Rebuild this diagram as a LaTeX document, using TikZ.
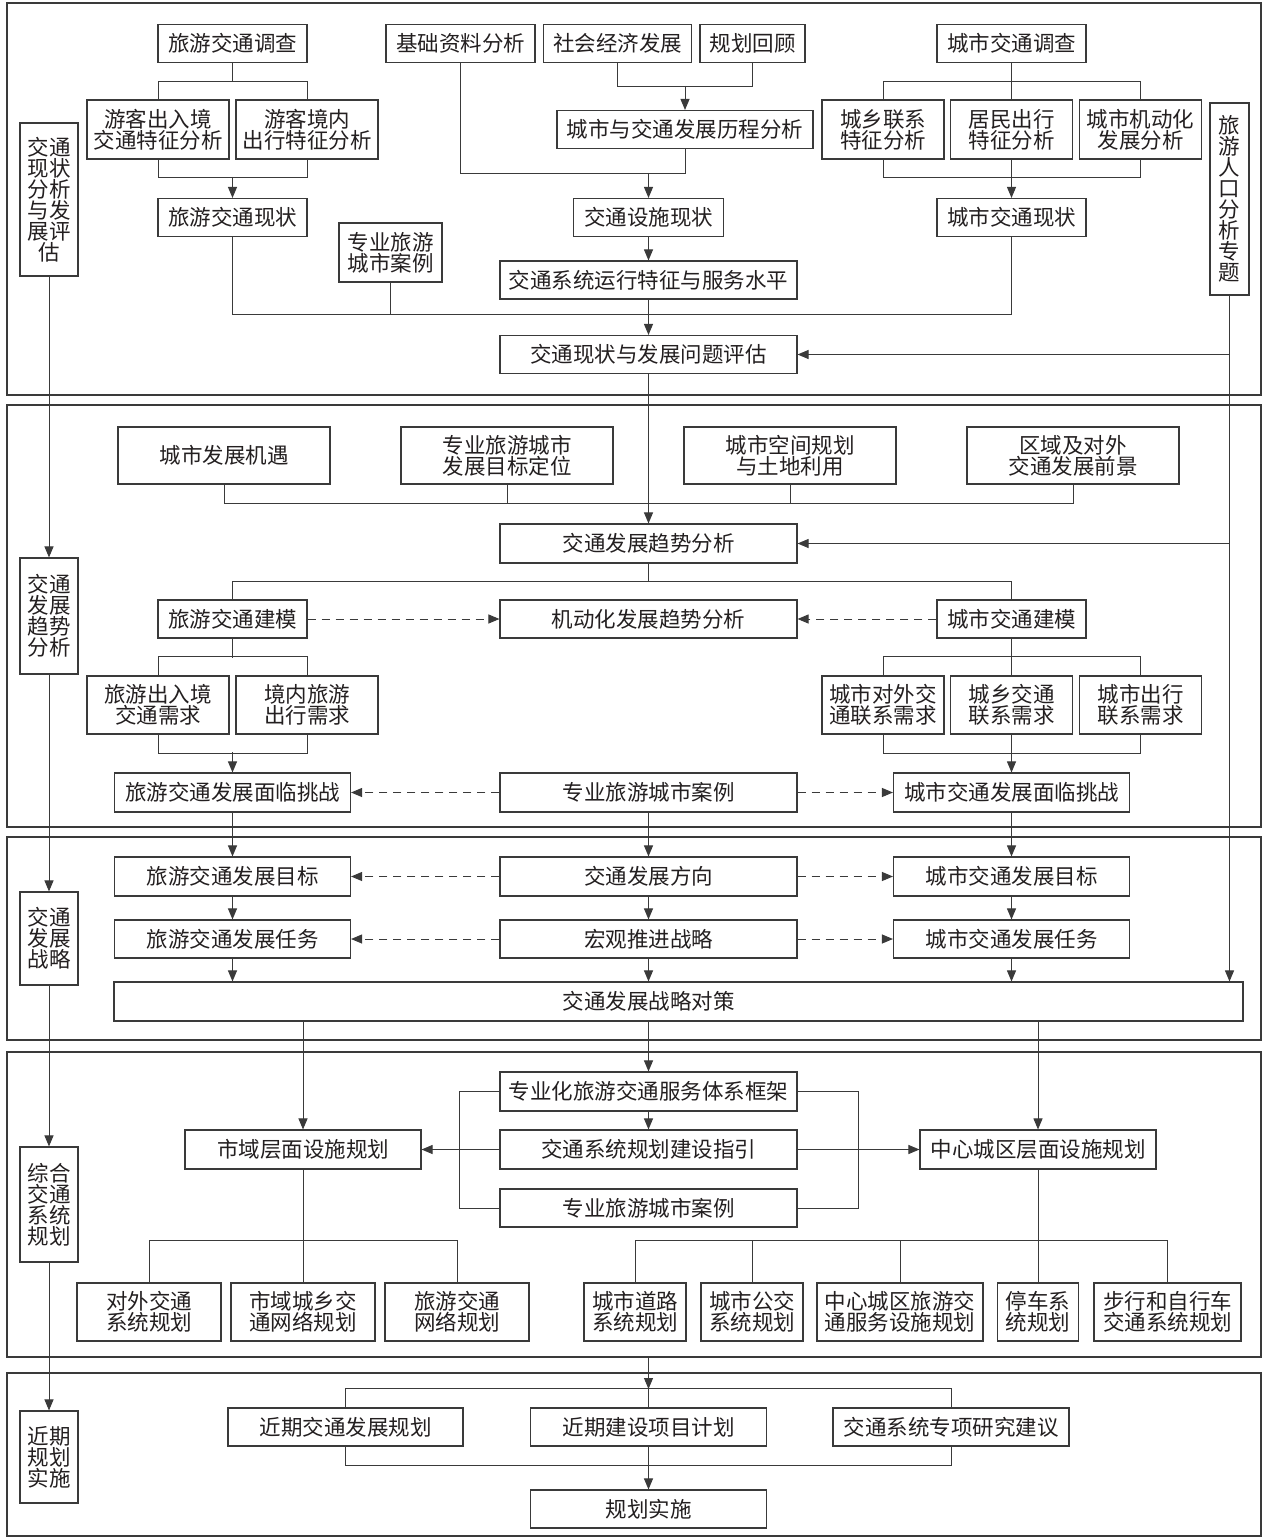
\documentclass[tikz,border=0pt]{standalone}
\usepackage{fontspec}
\newfontfamily\cjk{Noto Sans CJK SC}
\usetikzlibrary{arrows.meta}
\definecolor{cline}{HTML}{3A3A3A}
\definecolor{ctext}{HTML}{231F20}
\tikzset{
  every picture/.style={font=\cjk\fontsize{21.5}{21}\selectfont, line width=1pt},
  box/.style 2 args={draw=cline, line width=1.1pt, text=ctext, align=center, inner sep=0pt,
    minimum width=#1pt, minimum height=#2pt},
  side/.style={box={58}{#1}},
  ln/.style={draw=cline},
  arr/.style={-{Triangle[length=11pt, width=9pt]}, draw=cline},
  darr/.style={arr, dash pattern=on 8pt off 6pt},
  stage/.style={draw=cline, line width=1.2pt},
}

\begin{document}
\begin{tikzpicture}[x=1pt, y=-1pt]
  \useasboundingbox (0,0) rectangle (1265,1538);
  \draw[stage] (7,3) rectangle (1261,395);
  \draw[stage] (7,405) rectangle (1261,827);
  \draw[stage] (7,837) rectangle (1261,1040);
  \draw[stage] (7,1052) rectangle (1261,1357);
  \draw[stage] (7,1373) rectangle (1261,1536);

  % stage 1
  \node[box={149}{38}] (sv1) at (232.5,43.5) {旅游交通调查};
  \node[box={142}{59}] (sv2a) at (158,129.5) {游客出入境\\交通特征分析};
  \node[box={142}{59}] (sv2b) at (307,129.5) {游客境内\\出行特征分析};
  \node[box={149}{38}] (tcur) at (232.5,217.5) {旅游交通现状};
  \node[box={149}{38}] (base) at (460.5,43.5) {基础资料分析};
  \node[box={148}{38}] (soc) at (617.5,43.5) {社会经济发展};
  \node[box={105}{38}] (rev) at (752.5,43.5) {规划回顾};
  \node[box={256}{38}] (hist) at (685,129.5) {城市与交通发展历程分析};
  \node[box={150}{38}] (fac) at (648.5,217.5) {交通设施现状};
  \node[box={103}{59}] (case1) at (390.5,252.5) {专业旅游\\城市案例};
  \node[box={297}{38}] (run) at (648.5,280) {交通系统运行特征与服务水平};
  \node[box={297}{38}] (eval) at (648.5,354.5) {交通现状与发展问题评估};
  \node[box={149}{38}] (cv1) at (1011.5,43.5) {城市交通调查};
  \node[box={122}{59}] (cv2a) at (883,129.5) {城乡联系\\特征分析};
  \node[box={122}{59}] (cv2b) at (1011.5,129.5) {居民出行\\特征分析};
  \node[box={122}{59}] (cv2c) at (1140.5,129.5) {城市机动化\\发展分析};
  \node[box={149}{38}] (ccur) at (1011.5,217.5) {城市交通现状};
  \node[box={39}{192}] (pop) at (1229.5,199) {旅\\游\\人\\口\\分\\析\\专\\题};

  \draw[ln] (sv1.south) -- ++(0,19);
  \draw[ln] (sv2a.north) -- ++(0,-18) -| (sv2b.north);
  \draw[ln] (sv2a.south) -- ++(0,18) -| (sv2b.south);
  \draw[arr] ([yshift=21pt]tcur.north) -- (tcur.north);
  \draw[ln] (soc.south) -- ++(0,23) -| (rev.south);
  \draw[arr] ([yshift=24pt]hist.north) -- (hist.north);
  \draw[ln] (base.south) -- ++(0,110) -| (hist.south);
  \draw[arr] ([yshift=25pt]fac.north) -- (fac.north);
  \draw[ln] (cv1.south) -- (cv2b.north);
  \draw[ln] (cv2a.north) -- ++(0,-18) -| (cv2c.north);
  \draw[ln] (cv2a.south) -- ++(0,18) -| (cv2c.south);
  \draw[ln] (tcur.south) -- ++(0,77) -| (ccur.south);
  \draw[ln] (case1.south) -- ++(0,32);

  % stage 2
  \node[box={212}{57}] (opp) at (224,455.5) {城市发展机遇};
  \node[box={212}{57}] (goal) at (507,455.5) {专业旅游城市\\发展目标定位};
  \node[box={212}{57}] (land) at (790,455.5) {城市空间规划\\与土地利用};
  \node[box={212}{57}] (reg) at (1073,455.5) {区域及对外\\交通发展前景};
  \node[box={297}{39}] (trend) at (648.5,543.5) {交通发展趋势分析};
  \node[box={149}{38}] (tm) at (232.5,619) {旅游交通建模};
  \node[box={297}{38}] (motor) at (648.5,619) {机动化发展趋势分析};
  \node[box={149}{38}] (cm) at (1011.5,619) {城市交通建模};
  \node[box={142}{58}] (td1) at (158,705) {旅游出入境\\交通需求};
  \node[box={142}{58}] (td2) at (307,705) {境内旅游\\出行需求};
  \node[box={122}{58}] (cd1) at (883,705) {城市对外交\\通联系需求};
  \node[box={122}{58}] (cd2) at (1011.5,705) {城乡交通\\联系需求};
  \node[box={122}{58}] (cd3) at (1140.5,705) {城市出行\\联系需求};
  \node[box={236}{39}] (tch) at (232.5,792.5) {旅游交通发展面临挑战};
  \node[box={297}{39}] (case2) at (648.5,792.5) {专业旅游城市案例};
  \node[box={236}{39}] (cch) at (1011.5,792.5) {城市交通发展面临挑战};

  \draw[ln] (opp.south) -- ++(0,19) -| (reg.south);
  \foreach \n in {goal,land} \draw[ln] (\n.south) -- ++(0,19);
  \draw[ln] (trend.south) -- ++(0,18);
  \draw[ln] (tm.north) -- ++(0,-18) -| (cm.north);
  \draw[ln] (tm.south) -- ++(0,19);
  \draw[ln] (td1.north) -- ++(0,-19) -| (td2.north);
  \draw[ln] (td1.south) -- ++(0,19) -| (td2.south);
  \draw[arr] ([yshift=20pt]tch.north) -- (tch.north);
  \draw[ln] (cm.south) -- (cd2.north);
  \draw[ln] (cd1.north) -- ++(0,-19) -| (cd3.north);
  \draw[ln] (cd1.south) -- ++(0,19) -| (cd3.south);

  % stage 3
  \node[box={236}{39}] (tgoal) at (232.5,876.5) {旅游交通发展目标};
  \node[box={297}{39}] (dir) at (648.5,876.5) {交通发展方向};
  \node[box={236}{39}] (cgoal) at (1011.5,876.5) {城市交通发展目标};
  \node[box={236}{38}] (ttask) at (232.5,939) {旅游交通发展任务};
  \node[box={297}{38}] (macro) at (648.5,939) {宏观推进战略};
  \node[box={236}{38}] (ctask) at (1011.5,939) {城市交通发展任务};
  \node[box={1129}{39}, label={[text=ctext, xshift=-30pt]center:交通发展战略对策}] (strat) at (678.5,1001.5) {};

  \foreach \a/\b in {fac/run, run/eval, eval/trend, cv2b/ccur, cd2/cch, tch/tgoal, case2/dir, cch/cgoal,
                     tgoal/ttask, dir/macro, cgoal/ctask}
    \draw[arr] (\a) -- (\b);
  \foreach \n in {ttask,macro,ctask} \draw[arr] (\n.south) -- (\n.south |- strat.north);
  \foreach \a/\b in {tm/motor, cm/motor, case2/tch, case2/cch, dir/tgoal, dir/cgoal, macro/ttask, macro/ctask}
    \draw[darr] (\a) -- (\b);
  \draw[arr] (pop.south) -- (pop.south |- strat.north);
  \draw[arr] (pop.south |- eval) -- (eval.east);
  \draw[arr] (pop.south |- trend) -- (trend.east);

  % stage 4
  \node[box={297}{39}] (svc) at (648.5,1091.5) {专业化旅游交通服务体系框架};
  \node[box={297}{39}] (guide) at (648.5,1149.5) {交通系统规划建设指引};
  \node[box={297}{38}] (case3) at (648.5,1208) {专业旅游城市案例};
  \node[box={236}{39}] (city) at (303,1149.5) {市域层面设施规划};
  \node[box={236}{39}] (core) at (1038,1149.5) {中心城区层面设施规划};
  \node[box={144}{58}] (ex) at (149,1312) {对外交通\\系统规划};
  \node[box={144}{58}] (net) at (303,1312) {市域城乡交\\通网络规划};
  \node[box={144}{58}] (tnet) at (457,1312) {旅游交通\\网络规划};
  \node[box={102}{58}] (road) at (635,1312) {城市道路\\系统规划};
  \node[box={102}{58}] (bus) at (752,1312) {城市公交\\系统规划};
  \node[box={166}{58}] (tsvc) at (900,1312) {中心城区旅游交\\通服务设施规划};
  \node[box={81}{58}] (park) at (1038,1312) {停车系\\统规划};
  \node[box={147}{58}] (walk) at (1167.5,1312) {步行和自行车\\交通系统规划};

  \foreach \n in {city,svc,core} \draw[arr] (strat.south -| \n) -- (\n.north);
  \draw[arr] (svc) -- (guide);
  \draw[arr] (guide) -- (city);
  \draw[arr] (guide) -- (core);
  \draw[ln] (svc.west) -- ++(-40,0) |- (case3.west);
  \draw[ln] (svc.east) -- ++(61,0) |- (case3.east);
  \draw[ln] (city.south) -- (net.north);
  \draw[ln] (ex.north) -- ++(0,-42) -| (tnet.north);
  \draw[ln] (core.south) -- (park.north);
  \draw[ln] (road.north) -- ++(0,-42) -| (walk.north);
  \foreach \n in {bus,tsvc} \draw[ln] (\n.north) -- ++(0,-42);

  % stage 5
  \coordinate (s4b) at (648.5,1357);
  \node[box={235}{38}] (near) at (345.5,1427) {近期交通发展规划};
  \node[box={236}{38}] (proj) at (648.5,1427) {近期建设项目计划};
  \node[box={236}{38}] (study) at (951,1427) {交通系统专项研究建议};
  \node[box={236}{38}] (impl) at (648.5,1509) {规划实施};
  \draw[arr] (s4b) -- ++(0,32);
  \draw[ln] (near.north) -- ++(0,-19) -| (study.north);
  \draw[ln] (proj.north) -- ++(0,-19);
  \draw[ln] (near.south) -- ++(0,19) -| (study.south);
  \draw[arr] (proj) -- (impl);

  % left column
  \node[side={153}] (side1) at (49,199.5) {交通\\现状\\分析\\与发\\展评\\估};
  \node[side={116}] (side2) at (49,616) {交通\\发展\\趋势\\分析};
  \node[side={93}] (side3) at (49,938.5) {交通\\发展\\战略};
  \node[side={115}] (side4) at (49,1204.5) {综合\\交通\\系统\\规划};
  \node[side={92}] (side5) at (49,1457) {近期\\规划\\实施};
  \foreach \a/\b in {side1/side2, side2/side3, side3/side4, side4/side5} \draw[arr] (\a) -- (\b);
\end{tikzpicture}
\end{document}
